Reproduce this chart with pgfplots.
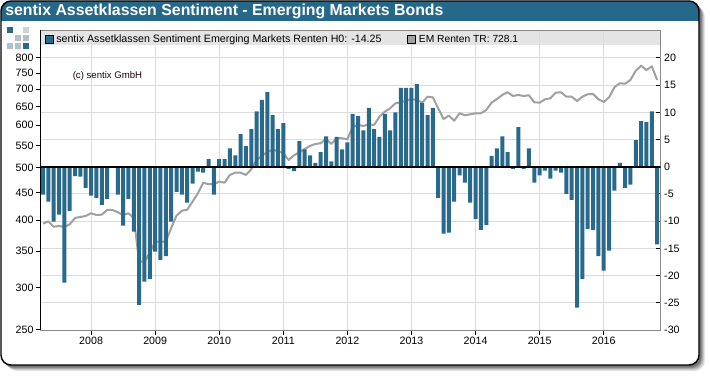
\documentclass[border=0pt]{standalone}
\usepackage{pgfplots}
\pgfplotsset{compat=1.18}
\usepackage{pgfplotstable}
\usepackage{fontspec}
\setmainfont{Liberation Sans}
\definecolor{bluec}{HTML}{296A8C}
\definecolor{titlec}{HTML}{25688A}
\definecolor{gridc}{HTML}{DCDCDC}
\definecolor{spinec}{HTML}{888888}
\definecolor{linec}{HTML}{A0A0A0}
\definecolor{stripc}{HTML}{E4E4E4}
\definecolor{logoa}{HTML}{B4C0C8}
\pgfplotstableread{
i h
0 -5.1
1 -6.4
2 -10.1
3 -8.8
4 -21.3
5 -8.1
6 -1.7
7 -1.8
8 -3.9
9 -5.3
10 -5.7
11 -7.0
12 -5.9
13 0.0
14 -5.1
15 -10.8
16 -5.9
17 -11.9
18 -25.4
19 -21.1
20 -20.6
21 -15.6
22 -17.1
23 -16.4
24 -10.1
25 -4.6
26 -5.1
27 -6.6
28 -3.1
29 -0.9
30 -1.1
31 1.4
32 -5.1
33 1.4
34 1.4
35 3.4
36 2.1
37 6.0
38 3.8
39 6.9
40 10.2
41 12.3
42 13.7
43 9.5
44 6.9
45 8.0
46 -0.4
47 -0.8
48 4.7
49 3.2
50 2.1
51 0.7
52 2.7
53 5.6
54 1.0
55 5.5
56 3.2
57 4.5
58 9.7
59 9.3
60 6.7
61 10.8
62 6.9
63 5.5
64 9.7
65 6.7
66 10.0
67 14.5
68 14.5
69 14.5
70 15.2
71 11.7
72 9.5
73 10.8
74 -5.7
75 -12.3
76 -12.1
77 -6.4
78 -1.6
79 -2.9
80 -6.6
81 -9.6
82 -11.6
83 -10.7
84 2.0
85 3.4
86 5.6
87 2.7
88 -0.4
89 7.3
90 -0.4
91 3.4
92 -2.9
93 -1.6
94 -0.7
95 -2.2
96 -0.7
97 -1.1
98 -5.0
99 -6.1
100 -25.9
101 -20.6
102 -11.4
103 -11.6
104 -16.4
105 -19.1
106 -15.4
107 -4.4
108 0.7
109 -3.9
110 -3.3
111 4.9
112 8.4
113 8.2
114 10.2
115 -14.25
}\sentiment
\pgfplotstableread{
i v
0 393.9
1 398.0
2 388.9
3 390.0
4 388.4
5 392.9
6 403.6
7 405.3
8 407.1
9 411.8
10 408.8
11 409.3
12 417.6
13 417.6
14 413.6
15 408.8
16 411.8
17 403.6
18 334.8
19 334.8
20 347.5
21 364.7
22 364.7
23 364.7
24 386.7
25 407.6
26 416.4
27 418.2
28 432.7
29 448.6
30 469.4
31 466.2
32 466.2
33 471.4
34 469.4
35 485.1
36 489.8
37 489.8
38 485.1
39 497.0
40 517.2
41 526.1
42 535.9
43 539.8
44 537.5
45 532.2
46 517.2
47 527.7
48 534.5
49 542.1
50 549.1
51 553.8
52 555.5
53 565.8
54 553.8
55 567.5
56 567.5
57 565.0
58 596.3
59 600.7
60 598.1
61 602.5
62 600.7
63 622.4
64 635.8
65 645.1
66 659.0
67 661.9
68 666.4
69 671.3
70 668.4
71 660.7
72 677.9
73 676.1
74 645.1
75 616.2
76 625.0
77 611.8
78 631.5
79 626.1
80 628.8
81 631.5
82 631.5
83 640.4
84 660.7
85 671.3
86 682.9
87 690.8
88 679.9
89 682.9
90 679.9
91 682.0
92 661.9
93 660.7
94 670.4
95 673.3
96 689.6
97 690.8
98 677.9
99 677.9
100 665.5
101 677.9
102 684.9
103 685.8
104 670.4
105 662.7
106 676.1
107 705.7
108 717.9
109 716.6
110 728.1
111 757.6
112 774.0
113 759.9
114 772.0
115 728.1
}\emrenten
\begin{document}
\begin{tikzpicture}
\begin{scope}[x=0.75pt,y=-0.75pt]
\useasboundingbox (0,0) rectangle (710,376);
% soft shadow
\fill[black!10,rounded corners=7.5pt] (7,7) rectangle (705,371);
\fill[black!20,rounded corners=7.5pt] (6,6) rectangle (704,370);
\fill[black!32,rounded corners=7.5pt] (5,5) rectangle (703,369);
\fill[black!45,rounded corners=7.5pt] (4,4) rectangle (702,368);
\fill[black!55,rounded corners=7.5pt] (3,3) rectangle (701,367);
% panel
\fill[white,rounded corners=7.5pt] (1,1) rectangle (699,365);
\begin{scope}
\clip[rounded corners=7.5pt] (1,1) rectangle (699,365);
\fill[titlec] (1,1) rectangle (699,21);
\end{scope}
\draw[black,line width=1.1pt,rounded corners=7.5pt] (1,1) rectangle (699,365);
\node[anchor=west,text=white,font=\bfseries\fontsize{11.9pt}{14pt}\selectfont,inner sep=0pt] at (5,11) {sentix Assetklassen Sentiment - Emerging Markets Bonds};
% logo
\fill[bluec] (7.3,26.7) rectangle +(6,6);
\fill[logoa!70] (23.3,26.7) rectangle +(6,6);
\fill[logoa] (15.3,34.7) rectangle +(6,6);
\fill[logoa] (23.3,34.7) rectangle +(6,6);
\fill[logoa] (7.3,42.7) rectangle +(6,6);
\fill[logoa] (15.3,42.7) rectangle +(6,6);
\fill[bluec] (23.3,42.7) rectangle +(6,6);
% legend strip
\fill[stripc] (40.5,30.5) rectangle (660.5,44.5);
\end{scope}
% grid axis
\begin{axis}[name=grid,at={(30.375pt,-247.5pt)},anchor=south west,scale only axis,width=465pt,height=224.625pt,
  xmin=-0.47,xmax=115.63,ymin=-30,ymax=25.04,
  xtick={9,21,33,45,57,69,81,93,105},ytick={-30,-25,-20,-15,-10,-5,0,5,10,15,20},
  xticklabels={},yticklabels={},
  major tick length=0pt,
  grid=major,grid style={gridc,line width=0.75pt},
  axis line style={spinec,line width=0.75pt}]
\end{axis}
% bond index on the logarithmic left axis
\begin{axis}[at={(30.375pt,-247.5pt)},anchor=south west,scale only axis,width=465pt,height=224.625pt,
  xmin=-0.47,xmax=115.63,ymode=log,ymin=250,ymax=899.6,
  axis y line*=left,hide x axis,
  ytick={250,300,350,400,450,500,550,600,650,700,750,800},
  yticklabels={250,300,350,400,450,500,550,600,650,700,750,800},
  minor ytick={},
  tick style={black,line width=0.75pt},
  y axis line style={black,line width=0.9pt},
  major tick length=3.75pt,tick align=outside,
  yticklabel style={font=\fontsize{8pt}{10pt}\selectfont,inner sep=0pt,xshift=-1.3pt}]
\addplot[linec,line width=1.5pt,line join=round] table[x=i,y=v] {\emrenten};
\end{axis}
% sentiment bars on the right axis
\begin{axis}[at={(30.375pt,-247.5pt)},anchor=south west,scale only axis,width=465pt,height=224.625pt,
  xmin=-0.47,xmax=115.63,ymin=-30,ymax=25.04,
  axis y line*=right,axis x line*=bottom,
  axis line style={spinec,line width=0.75pt,-},
  xtick={9,21,33,45,57,69,81,93,105},
  xticklabels={2008,2009,2010,2011,2012,2013,2014,2015,2016},
  ytick={-30,-25,-20,-15,-10,-5,0,5,10,15,20},
  yticklabels={-30,-25,-20,-15,-10,-5,0,5,10,15,20},
  tick style={black,line width=0.75pt},
  major tick length=3.75pt,
  xtick align=outside,ytick align=inside,
  xticklabel style={font=\fontsize{8pt}{10pt}\selectfont,inner sep=0pt,yshift=-1pt},
  yticklabel style={font=\fontsize{8pt}{10pt}\selectfont,inner sep=0pt,anchor=west,xshift=2.6pt},
  legend style={at={(0,1)},anchor=north west,draw=none,fill=none,legend columns=2,
    font=\fontsize{8pt}{10pt}\selectfont,inner xsep=2pt,inner ysep=0pt,
    xshift=0.9pt,yshift=-1.2pt,
    /tikz/every even column/.append style={column sep=17.25pt}},
  legend cell align=left]
\addlegendimage{legend image code/.code={\draw[fill=bluec,draw=black,line width=0.75pt] (0pt,-3pt) rectangle (6pt,3pt);}}
\addlegendentry{sentix Assetklassen Sentiment Emerging Markets Renten H0: -14.25}
\addlegendimage{legend image code/.code={\draw[fill=linec,draw=black,line width=0.75pt] (0pt,-3pt) rectangle (6pt,3pt);}}
\addlegendentry{\fontsize{7.7pt}{10pt}\selectfont EM Renten TR: 728.1}
\addplot[ybar,bar width=3pt,bar shift=0pt,fill=bluec,draw=none,forget plot] table[x=i,y=h] {\sentiment};
\addplot[black,line width=1.5pt,forget plot] coordinates {(-0.47,0) (115.63,0)};
\end{axis}
\node[anchor=west,inner sep=0pt,text=black!85!purple,font=\fontsize{7.2pt}{8pt}\selectfont] at (54.375pt,-57pt) {(c) sentix GmbH};
\end{tikzpicture}
\end{document}
